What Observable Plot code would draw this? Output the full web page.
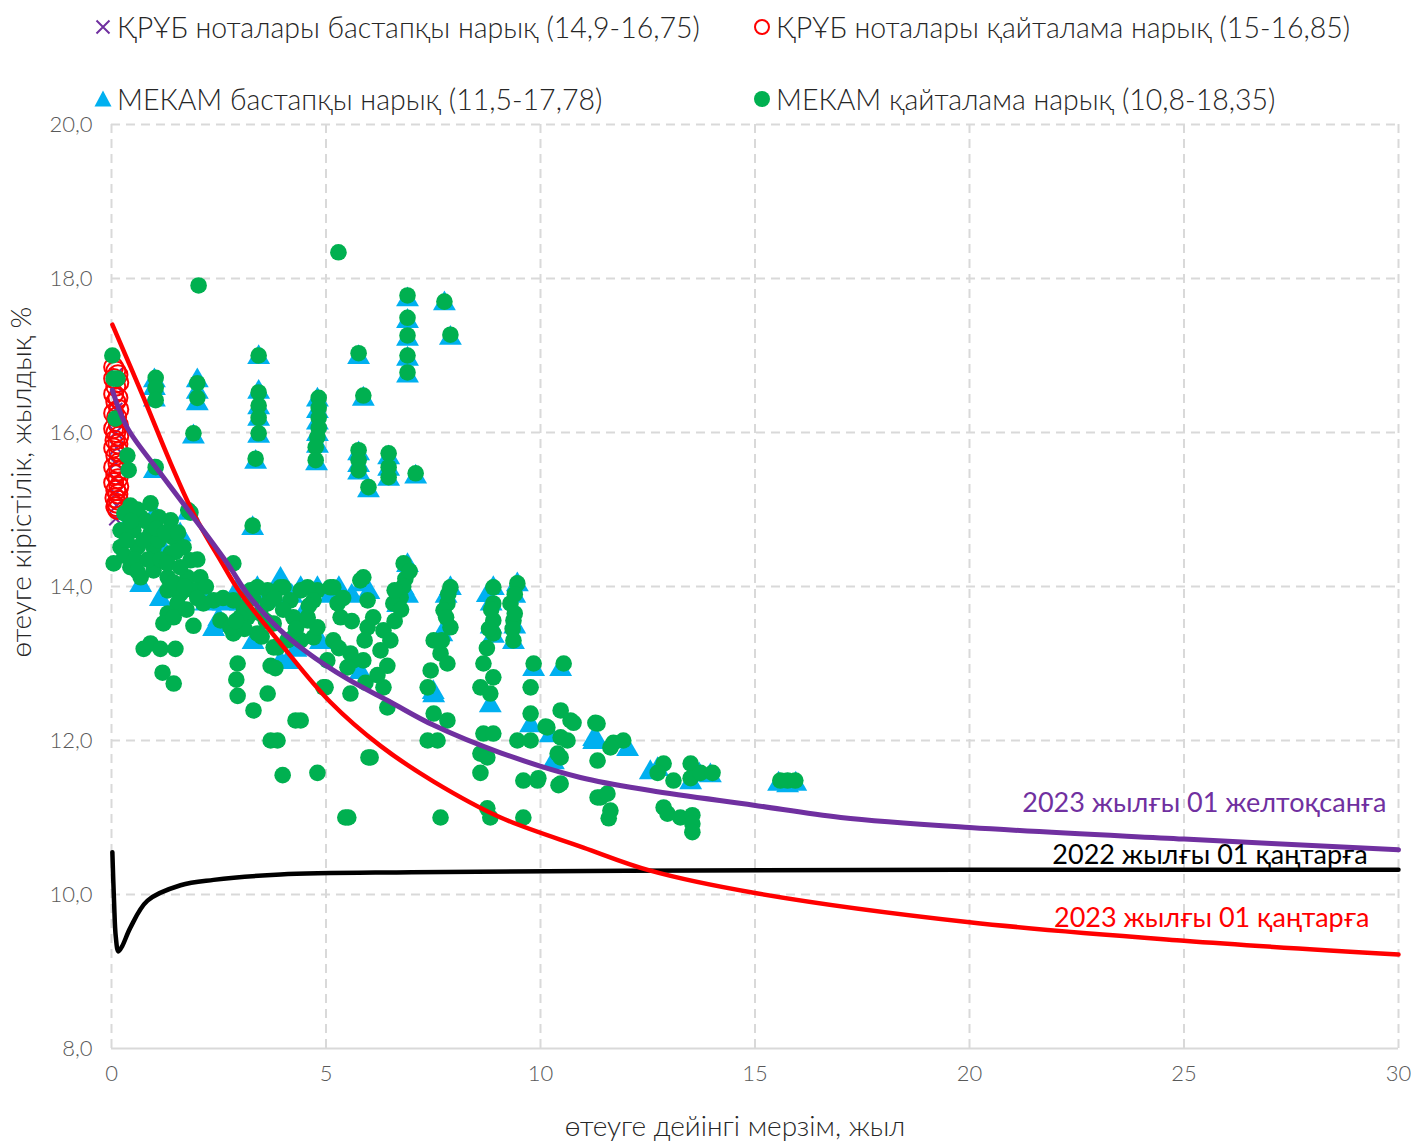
<!DOCTYPE html>
<html><head><meta charset="utf-8">
<script src="https://cdn.jsdelivr.net/npm/d3@7"></script>
<script src="https://cdn.jsdelivr.net/npm/@observablehq/plot@0.6"></script>
<style>
body{margin:0;background:#fff;font-family:Lato,"Open Sans",sans-serif;position:relative}
#legend{position:relative;height:110px;width:1411px;font-size:28.5px;color:#262626;font-weight:300}
.item{position:absolute;display:flex;align-items:center;white-space:nowrap;transform:translateY(-50%)}
.item svg{margin-right:3px}
#ytitle{position:absolute;left:20px;top:482px;transform:translate(-50%,-50%) rotate(-90deg);font-size:28px;font-weight:300;color:#262626;white-space:nowrap}
</style></head><body>
<div id="legend"></div><div id="chart"></div><div id="ytitle"></div>
<script>
const xTicks = [0,5,10,15,20,25,30];
const yTicks = [8,10,12,14,16,18,20];
const legendLabels = [
  "ҚРҰБ ноталары бастапқы нарық (14,9-16,75)",
  "ҚРҰБ ноталары қайталама нарық (15-16,85)",
  "МЕКАМ бастапқы нарық (11,5-17,78)",
  "МЕКАМ қайталама нарық (10,8-18,35)"
];
const xTitle = "өтеуге дейінгі мерзім, жыл";
const yTitle = "өтеуге кірістілік, жылдық %";
const curveNames = ["2023 жылғы 01 желтоқсанға","2022 жылғы 01 қаңтарға","2023 жылғы 01 қаңтарға"];
const curveLabelPos = [[29.72,11.18],[29.28,10.51],[29.32,9.69]];

// ҚРҰБ notes, primary (x marks)
const nbkPrimary = [[0.1,14.88],[0.12,15.05],[0.1,15.2],[0.08,15.4],[0.1,15.6],[0.12,15.8],[0.1,16.0],[0.1,16.3],[0.12,16.6],[0.1,16.75]];
// ҚРҰБ notes, secondary (open circles)
const nbkSecondary = [[0.05,16.85],[0.1,16.8],[0.15,16.75],[0.05,16.7],[0.17,16.65],[0.1,16.6],[0.05,16.5],[0.15,16.45],[0.1,16.4],[0.17,16.3],[0.05,16.25],[0.12,16.2],[0.16,16.1],[0.05,16.05],[0.1,16.0],[0.17,15.95],[0.08,15.9],[0.15,15.85],[0.05,15.8],[0.17,15.75],[0.1,15.7],[0.15,15.6],[0.05,15.55],[0.17,15.5],[0.1,15.45],[0.15,15.4],[0.05,15.35],[0.17,15.3],[0.1,15.25],[0.15,15.2],[0.08,15.15],[0.16,15.12],[0.12,15.08],[0.1,15.04],[0.14,15.0]];
// МЕКАМ primary (triangles)
const mekamPrimary = [[1.0,16.45],[1.0,16.6],[1.0,16.7],[1.0,15.52],[2.0,16.4],[2.0,16.55],[2.0,16.7],[1.91,15.97],[3.43,17.0],[3.43,16.55],[3.43,16.35],[3.43,16.2],[3.43,15.98],[3.36,15.64],[4.8,16.45],[4.8,16.3],[4.8,16.15],[4.8,16.0],[4.8,15.85],[4.78,15.62],[5.76,17.0],[5.87,16.46],[5.76,15.75],[5.76,15.6],[5.76,15.5],[5.99,15.27],[6.46,15.7],[6.46,15.55],[6.46,15.42],[7.09,15.45],[6.9,17.75],[6.9,17.47],[6.9,17.24],[6.9,16.98],[6.9,16.76],[7.76,17.7],[7.9,17.25],[1.79,14.98],[3.29,14.78],
[0.68,14.04],[1.14,13.86],[2.47,13.52],[4.1,13.04],[4.87,13.3],[2.38,13.47],[3.94,13.04],[5.8,12.91],[3.94,14.12],[6.67,13.78],[8.76,13.91],[9.84,12.95],[10.47,12.95],[7.51,12.61],[8.83,12.48],[9.77,12.22],[10.23,12.09],[11.24,12.0],[11.33,12.0],[10.3,11.74],[12.03,11.91],[12.56,11.61],[12.73,11.65],[13.5,11.48],[13.96,11.57],[15.76,11.44],[15.55,11.46],[15.95,11.46],[11.24,12.04],
[3.4,14.0],[3.94,14.0],[4.41,14.0],[4.8,14.0],[5.3,14.0],[5.87,14.05],[6.9,14.3],[7.9,14.0],[8.9,14.0],[9.46,14.05],[2.2,13.8],[2.5,13.6],[9.37,13.3],[8.9,13.38],[7.5,12.65],[6.9,13.9],[1.5,13.8],[2.9,13.95],[13.7,11.58],
[0.45,14.9],[1.0,14.95],[1.2,14.5],[1.6,14.7],[2.1,14.0],[2.6,13.8],[3.0,13.8],[3.6,13.85],[4.2,13.9],[4.5,13.7],[5.1,13.9],[5.6,13.9],[6.0,13.95],[6.8,14.0],[7.8,13.9],[8.85,13.8],[9.4,13.9],[9.4,13.5],[8.85,13.5],[7.7,13.4],[4.3,13.2],[3.3,13.3]];
// МЕКАМ secondary (filled circles)
const mekamSecondary = [
[0.02,17.0],[0.05,16.7],[0.14,16.7],[0.09,16.18],[0.37,15.7],[0.4,15.51],[1.03,15.55],[1.03,16.71],[1.03,16.58],[1.03,16.42],[2.0,16.64],[2.0,16.45],[1.91,15.99],[2.03,17.91],
[3.43,17.0],[3.43,16.52],[3.43,16.35],[3.43,16.19],[3.43,15.99],[3.36,15.66],[4.83,16.45],[4.83,16.32],[4.83,16.19],[4.83,16.06],[4.8,15.94],[4.76,15.81],[4.76,15.64],
[5.29,18.34],[5.76,17.03],[5.87,16.48],[5.76,15.77],[5.76,15.64],[5.76,15.51],[5.99,15.29],[6.46,15.73],[6.46,15.55],[6.46,15.42],[7.09,15.47],
[6.9,17.78],[6.9,17.49],[6.9,17.26],[6.9,17.0],[6.9,16.78],[7.76,17.7],[7.9,17.27],[1.79,14.99],[3.29,14.79],[2.84,14.3],
[0.44,15.05],[0.91,15.08],[0.68,14.9],[0.21,14.73],[0.51,14.73],[0.91,14.69],[0.21,14.51],[0.61,14.51],[0.98,14.51],[0.05,14.3],[0.44,14.25],[0.68,14.12],[0.98,14.21],
[1.38,14.86],[1.42,14.64],[1.38,14.43],[1.68,14.51],[1.84,14.34],[1.31,14.12],[1.77,14.12],[2.07,14.12],[1.31,13.95],[1.61,13.91],[1.91,13.95],[1.54,13.78],[1.31,13.65],[1.21,13.52],[1.91,13.49],[1.84,14.96],
[2.38,13.82],[2.54,13.56],[2.84,13.39],[2.14,13.78],[3.24,13.95],[3.64,13.95],[4.01,13.99],[4.41,13.95],[4.8,13.95],[3.08,13.73],[3.47,13.65],[3.78,13.52],[4.24,13.6],[4.57,13.56],[4.71,13.34],[3.78,13.21],[4.41,13.3],
[0.75,13.19],[0.91,13.26],[1.14,13.19],[1.49,13.19],[1.19,12.88],[1.45,12.74],[2.94,13.0],[2.91,12.79],[2.94,12.58],[3.64,12.61],[3.31,12.39],[4.29,12.26],[3.71,12.97],[3.82,12.94],[4.94,12.69],
[3.87,12.0],[3.71,12.0],[3.99,11.55],[4.8,11.58],[5.52,11.0],[5.45,11.0],[5.99,11.78],[5.57,12.61],[5.92,12.75],
[3.4,13.99],[3.94,13.99],[4.57,13.99],[5.1,13.99],[5.8,14.08],[2.84,13.82],[3.64,13.78],[4.17,13.82],[4.71,13.82],[5.27,13.78],[5.97,13.82],[2.77,13.47],[3.4,13.39],[3.87,13.21],[4.24,13.34],[4.8,13.47],[5.17,13.3],[5.57,13.13],[5.03,13.04],[5.87,13.04],[4.57,13.6],[3.17,13.6],
[5.17,13.99],[5.87,14.12],[6.81,14.3],[6.74,13.86],[6.57,13.78],[6.85,14.1],[7.9,13.99],[7.83,13.78],[7.74,13.69],[8.9,13.99],[8.9,13.78],[8.9,13.56],[8.9,13.39],[9.46,14.04],[9.3,13.78],[9.37,13.56],[9.37,13.3],[9.84,13.0],[10.54,13.0],[9.77,12.69],
[5.34,13.6],[5.97,13.47],[5.64,13.04],[6.34,13.43],[6.5,13.3],[6.27,13.17],[6.43,12.97],[6.34,12.69],[4.99,12.69],[6.43,12.43],[7.51,13.3],[7.9,13.47],[7.67,13.13],[7.83,13.0],[7.44,12.91],[7.37,12.69],[8.67,13.0],[8.9,12.82],[8.6,12.69],[8.83,12.61],
[7.51,12.35],[7.83,12.26],[7.37,12.0],[7.6,12.0],[8.67,12.09],[8.9,12.09],[8.6,11.83],[8.76,11.78],[8.6,11.58],[9.77,12.35],[9.46,12.0],[9.77,12.0],[9.6,11.48],[9.93,11.48],[10.47,12.39],[10.7,12.26],[10.16,12.17],[10.47,12.04],[10.47,11.78],[10.47,11.44],
[11.33,12.22],[11.33,11.74],[11.33,11.26],[6.04,11.78],[7.67,11.0],[8.76,11.12],[8.83,11.0],[9.6,11.0],[4.41,12.26],
[10.12,12.18],[10.63,12.0],[10.4,11.83],[10.42,11.42],[11.28,12.23],[11.7,11.97],[11.93,12.0],[11.63,11.91],[11.4,11.26],[11.56,11.31],[11.63,11.09],[11.59,10.99],[9.95,11.51],[10.77,12.23],
[12.87,11.7],[12.73,11.58],[13.1,11.48],[13.5,11.7],[13.5,11.51],[13.73,11.58],[14.01,11.58],[12.87,11.13],[12.96,11.05],[13.26,11.0],[13.54,11.03],[13.54,10.92],[13.54,10.81],[15.59,11.48],[15.76,11.48],[15.94,11.48],
[0.3,14.95],[0.6,15.0],[0.8,14.85],[1.1,14.9],[0.35,14.6],[0.75,14.6],[1.1,14.6],[0.3,14.4],[0.55,14.35],[0.85,14.35],[1.15,14.35],[0.6,14.2],[1.05,14.75],[0.45,14.85],
[1.25,14.7],[1.55,14.7],[1.5,14.45],[1.3,14.3],[1.6,14.25],[2.0,14.35],[1.45,14.05],[1.7,14.0],[2.2,14.0],[1.45,13.6],[1.75,13.7],[2.0,13.85],
[2.6,13.85],[3.0,13.6],[3.3,13.85],[3.6,13.55],[4.0,13.7],[4.3,13.45],[4.6,13.75],[3.1,13.45],[3.5,13.35],[4.1,13.3],[2.9,13.55],[3.8,13.85],
[5.4,13.85],[5.6,13.55],[5.9,13.3],[6.1,13.6],[5.3,13.2],[6.2,12.85],[5.5,12.95],[6.6,13.55],
[6.95,14.2],[6.8,14.0],[6.75,13.7],[6.6,13.95],[7.85,13.9],[7.8,13.6],[7.7,13.3],
[8.85,13.7],[8.8,13.45],[8.75,13.2],[9.4,13.9],[9.35,13.45],[9.4,13.65]
];

// Yield curves
const curveDec2023 = [[0.02,16.55],[0.37,16.06],[1.14,15.47],[1.91,14.9],[2.7,14.3],[3.2,13.88],[3.94,13.43],[4.5,13.17],[5.5,12.8],[6.5,12.5],[7.5,12.2],[9.07,11.84],[10.93,11.52],[12.56,11.35],[14.97,11.16],[17.0,11.0],[20,10.87],[25,10.72],[30,10.58]];
const curveJan2022 = [[0.02,10.55],[0.06,9.9],[0.1,9.45],[0.16,9.26],[0.25,9.33],[0.44,9.57],[0.84,9.92],[1.61,10.12],[2.38,10.19],[3.94,10.26],[7,10.29],[12,10.31],[20,10.32],[30,10.32]];
const curveJan2023 = [[0.02,17.4],[0.75,16.45],[1.38,15.6],[1.91,14.95],[2.54,14.34],[3.0,13.92],[3.94,13.26],[5.1,12.5],[6.27,11.93],[7.5,11.47],[9.07,11.0],[11.0,10.61],[12.56,10.31],[15,10.02],[20,9.64],[25,9.4],[30,9.22]];

const C = {purple:"#7030a0", red:"#ff0000", blue:"#00b0f0", green:"#00b050", black:"#000000"};

// Legend
const legend = document.getElementById("legend");
const markerSvgs = [
  `<svg width="22" height="22" viewBox="-11 -11 22 22"><path d="M-6.5,-6.5L6.5,6.5M6.5,-6.5L-6.5,6.5" stroke="${C.purple}" stroke-width="2"/></svg>`,
  `<svg width="22" height="22" viewBox="-11 -11 22 22"><circle r="7" fill="none" stroke="${C.red}" stroke-width="2"/></svg>`,
  `<svg width="22" height="22" viewBox="-11 -11 22 22"><path d="M0,-8.5L8.5,7.5L-8.5,7.5Z" fill="${C.blue}"/></svg>`,
  `<svg width="22" height="22" viewBox="-11 -11 22 22"><circle r="8" fill="${C.green}"/></svg>`
];
const legendPos = [[92,27],[751,27],[92,99],[751,99]];
legendLabels.forEach((t,i)=>{
  const d = document.createElement("div");
  d.className="item";
  d.style.left = legendPos[i][0]+"px";
  d.style.top = legendPos[i][1]+"px";
  d.innerHTML = markerSvgs[i] + `<span>${t}</span>`;
  legend.appendChild(d);
});
document.getElementById("ytitle").textContent = yTitle;

const fmt = d => d.toFixed(1).replace(".", ",");
const lbl = curveNames.map((t,i)=>({t, x:curveLabelPos[i][0], y:curveLabelPos[i][1], c:[C.purple,C.black,C.red][i]}));

const plot = Plot.plot({
  width:1411, height:1033,
  marginLeft:111, marginRight:13, marginTop:14, marginBottom:95,
  x:{domain:[0,30], label:null},
  y:{domain:[8,20], label:null},
  style:{fontFamily:"Lato, sans-serif", fontSize:"22px", color:"#595959", background:"#fff", overflow:"visible"},
  marks:[
    Plot.gridX(xTicks, {stroke:"#d9d9d9", strokeOpacity:1, strokeWidth:2, strokeDasharray:"9,6"}),
    Plot.gridY(yTicks.filter(d=>d>8), {stroke:"#d9d9d9", strokeOpacity:1, strokeWidth:2, strokeDasharray:"9,6"}),
    Plot.ruleY([8], {stroke:"#d9d9d9", strokeWidth:2}),
    Plot.axisX({ticks:xTicks, tickSize:0, tickPadding:17, fontSize:22, fontWeight:300, tickFormat:d=>String(d)}),
    Plot.axisY({ticks:yTicks, tickSize:0, tickPadding:19, fontSize:22, fontWeight:300, tickFormat:fmt}),
    Plot.dot(nbkPrimary, {x:d=>d[0], y:d=>d[1], symbol:"times", r:6, stroke:C.purple, strokeWidth:2}),
    Plot.dot(nbkSecondary, {x:d=>d[0], y:d=>d[1], symbol:"circle", r:9.5, stroke:C.red, strokeWidth:2, fill:"none"}),
    Plot.dot(mekamPrimary, {x:d=>d[0], y:d=>d[1], symbol:"triangle", r:8.5, fill:C.blue, stroke:"none", dy:2}),
    Plot.dot(mekamSecondary, {x:d=>d[0], y:d=>d[1], symbol:"circle", r:8.3, fill:C.green, stroke:"none"}),
    Plot.line(curveJan2022, {x:d=>d[0], y:d=>d[1], stroke:C.black, strokeWidth:4.5, curve:"catmull-rom"}),
    Plot.line(curveJan2023, {x:d=>d[0], y:d=>d[1], stroke:C.red, strokeWidth:4.5, curve:"catmull-rom"}),
    Plot.line(curveDec2023, {x:d=>d[0], y:d=>d[1], stroke:C.purple, strokeWidth:5, curve:"catmull-rom"}),
    Plot.text(lbl, {x:"x", y:"y", text:"t", fill:"c", textAnchor:"end", fontSize:27, fontFamily:"Lato, sans-serif"}),
    Plot.text([xTitle], {frameAnchor:"bottom", dy:87, dx:-20, fontSize:28, fill:"#262626", fontWeight:300})
  ]
});
document.getElementById("chart").appendChild(plot);
</script>
</body></html>
